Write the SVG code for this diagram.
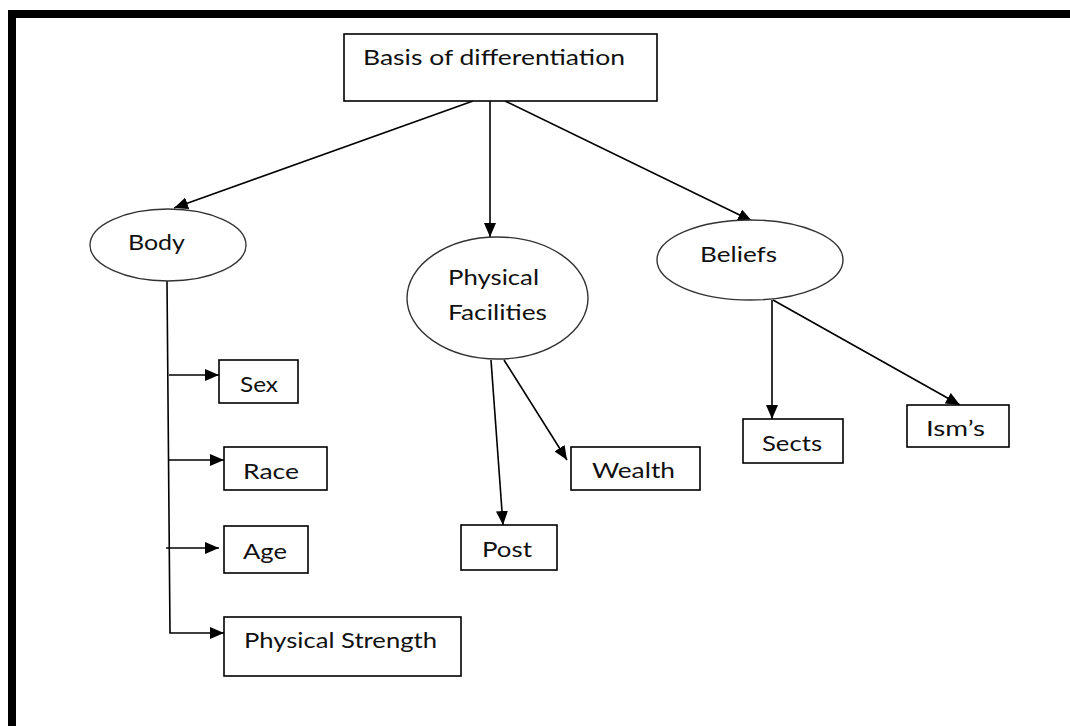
<svg xmlns="http://www.w3.org/2000/svg" width="1070" height="726" viewBox="0 0 1070 726">
<style>
.box{fill:#fff;stroke:#000;stroke-width:1.6}
.ell{fill:#fff;stroke:#333;stroke-width:1.4}
.lbl{font-family:Lato,"Open Sans",sans-serif;font-size:22px;fill:#111}
.con{fill:none;stroke:#000;stroke-width:1.6}
.arr{marker-end:url(#ah)}
</style>
<defs>
<marker id="ah" markerUnits="userSpaceOnUse" markerWidth="14" markerHeight="12" viewBox="0 0 14 12" refX="14" refY="6" orient="auto">
<path d="M0,0 L14,6 L0,12 Z" fill="#000"/>
</marker>
</defs>
<rect width="1070" height="726" fill="#fff"/>
<path d="M12,726 V14 H1070" fill="none" stroke="#000" stroke-width="8"/>
<g id="connectors">
<line class="con arr" x1="473" y1="101" x2="174" y2="208"/>
<line class="con arr" x1="490" y1="101" x2="490" y2="237"/>
<line class="con arr" x1="505" y1="101" x2="752" y2="221"/>
<polyline class="con arr" points="167,281 170,633 224,633"/>
<line class="con arr" x1="169" y1="375" x2="219" y2="375"/>
<line class="con arr" x1="169" y1="460" x2="224" y2="460"/>
<line class="con arr" x1="166" y1="548" x2="219" y2="548"/>
<line class="con arr" x1="491" y1="360" x2="503" y2="525"/>
<line class="con arr" x1="504" y1="360" x2="567" y2="460"/>
<line class="con arr" x1="772" y1="300" x2="772" y2="419"/>
<line class="con arr" x1="773" y1="300" x2="960" y2="405"/>
</g>
<g id="basis">
<rect class="box" x="344" y="34" width="313" height="67"/>
<text class="lbl" x="363" y="65" textLength="262" lengthAdjust="spacingAndGlyphs">Basis of differentiation</text>
</g>
<g id="body">
<ellipse class="ell" cx="168" cy="245" rx="78" ry="36"/>
<text class="lbl" x="128" y="250" textLength="57" lengthAdjust="spacingAndGlyphs">Body</text>
</g>
<g id="physical-facilities">
<ellipse class="ell" cx="497.5" cy="298" rx="90.5" ry="61"/>
<text class="lbl" x="448" y="285" textLength="91" lengthAdjust="spacingAndGlyphs">Physical</text>
<text class="lbl" x="448" y="320" textLength="99" lengthAdjust="spacingAndGlyphs">Facilities</text>
</g>
<g id="beliefs">
<ellipse class="ell" cx="750" cy="260" rx="93" ry="40"/>
<text class="lbl" x="700" y="262" textLength="77" lengthAdjust="spacingAndGlyphs">Beliefs</text>
</g>
<g id="sex">
<rect class="box" x="219" y="360" width="79" height="43"/>
<text class="lbl" x="240" y="392" textLength="38" lengthAdjust="spacingAndGlyphs">Sex</text>
</g>
<g id="race">
<rect class="box" x="224" y="447" width="103" height="43"/>
<text class="lbl" x="243" y="479" textLength="56" lengthAdjust="spacingAndGlyphs">Race</text>
</g>
<g id="age">
<rect class="box" x="224" y="526" width="84" height="47"/>
<text class="lbl" x="243" y="559" textLength="44" lengthAdjust="spacingAndGlyphs">Age</text>
</g>
<g id="physical-strength">
<rect class="box" x="224" y="617" width="237" height="59"/>
<text class="lbl" x="244" y="648" textLength="193" lengthAdjust="spacingAndGlyphs">Physical Strength</text>
</g>
<g id="post">
<rect class="box" x="461" y="525" width="96" height="45"/>
<text class="lbl" x="482" y="557" textLength="50" lengthAdjust="spacingAndGlyphs">Post</text>
</g>
<g id="wealth">
<rect class="box" x="571" y="447" width="129" height="43"/>
<text class="lbl" x="592" y="478" textLength="83" lengthAdjust="spacingAndGlyphs">Wealth</text>
</g>
<g id="sects">
<rect class="box" x="743" y="419" width="100" height="44"/>
<text class="lbl" x="762" y="451" textLength="60" lengthAdjust="spacingAndGlyphs">Sects</text>
</g>
<g id="isms">
<rect class="box" x="907" y="405" width="102" height="42"/>
<text class="lbl" x="926" y="436" textLength="59" lengthAdjust="spacingAndGlyphs">Ism’s</text>
</g>
</svg>
